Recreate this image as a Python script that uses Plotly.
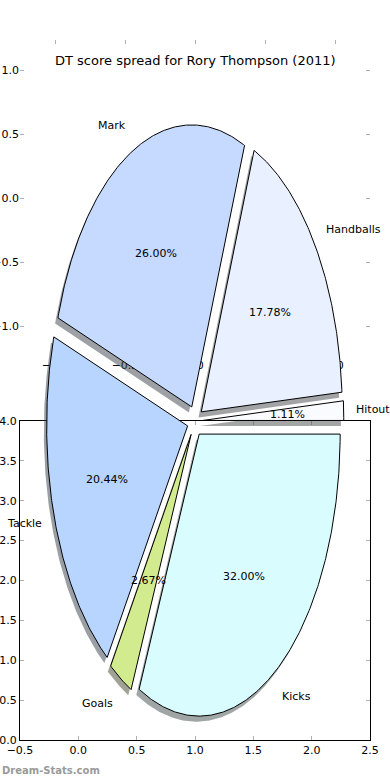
import numpy as np
import plotly.graph_objects as go

# ---- data ----
labels = ["Hitout", "Handballs", "Mark", "Tackle", "Goals", "Kicks"]
values = [5, 80, 117, 92, 12, 144]
colors = ["#f9fbff", "#e9f0ff", "#c6d9ff", "#b7d5ff", "#d2eb8f", "#d9fdff"]
title = "DT score spread for Rory Thompson (2011)"
upper_ticks = [-1.0, -0.5, 0.0, 0.5, 1.0]
lower_xticks = [-0.5, 0.0, 0.5, 1.0, 1.5, 2.0, 2.5]
lower_yticks = [0.0, 0.5, 1.0, 1.5, 2.0, 2.5, 3.0, 3.5, 4.0]

# ---- pie geometry (pixel space of a hidden full-page axis) ----
W, H = 390, 780
CX, CY = 195.0, 421.0
RX, RY = 141.0, 282.0
EXPLODE = 0.055
LABEL_DIST_X, LABEL_DIST_Y = 1.075, 1.1
PCT_DIST = 0.6
SH_DX, SH_DY = -0.02 * RX, 0.02 * RY
FONT = "DejaVu Sans"

fig = go.Figure()

total = float(sum(values))
fracs = [v / total for v in values]
angles = []
a = 0.0
for f in fracs:
    angles.append((a, a + 360.0 * f))
    a += 360.0 * f


def wedge(t1, t2, ox, oy):
    ts = np.radians(np.linspace(t1, t2, max(8, int((t2 - t1) * 2))))
    xs = [ox] + list(ox + RX * np.cos(ts)) + [ox]
    ys = [oy] + list(oy - RY * np.sin(ts)) + [oy]
    return xs, ys


def shadow_color(hexc):
    r, g, b = int(hexc[1:3], 16), int(hexc[3:5], 16), int(hexc[5:7], 16)
    return "rgba(%d,%d,%d,0.5)" % (0.3 * r, 0.3 * g, 0.3 * b)


geo = []
for (t1, t2) in angles:
    tm = np.radians((t1 + t2) / 2)
    ox = CX + EXPLODE * RX * np.cos(tm)
    oy = CY - EXPLODE * RY * np.sin(tm)
    geo.append((t1, t2, tm, ox, oy))

# shadows first
for (t1, t2, tm, ox, oy), c in zip(geo, colors):
    xs, ys = wedge(t1, t2, ox + SH_DX, oy + SH_DY)
    fig.add_trace(go.Scatter(x=xs, y=ys, xaxis="x3", yaxis="y3", mode="lines",
                             fill="toself", fillcolor=shadow_color(c),
                             line=dict(width=0), hoverinfo="skip", showlegend=False))
# wedges
for (t1, t2, tm, ox, oy), c in zip(geo, colors):
    xs, ys = wedge(t1, t2, ox, oy)
    fig.add_trace(go.Scatter(x=xs, y=ys, xaxis="x3", yaxis="y3", mode="lines",
                             fill="toself", fillcolor=c,
                             line=dict(width=1, color="#000000"),
                             hoverinfo="skip", showlegend=False))

annotations = []
for (t1, t2, tm, ox, oy), lab, f in zip(geo, labels, fracs):
    lx = ox + LABEL_DIST_X * RX * np.cos(tm)
    ly = oy - LABEL_DIST_Y * RY * np.sin(tm)
    annotations.append(dict(x=lx, y=ly, xref="x3", yref="y3", text=lab, showarrow=False,
                            xanchor="left" if np.cos(tm) > 0 else "right", yanchor="middle",
                            font=dict(family=FONT, size=11, color="#000")))
    px = ox + PCT_DIST * RX * np.cos(tm)
    py = oy - PCT_DIST * RY * np.sin(tm)
    annotations.append(dict(x=px, y=py, xref="x3", yref="y3", text="%.2f%%" % (100 * f),
                            showarrow=False, xanchor="center", yanchor="middle",
                            font=dict(family=FONT, size=11, color="#000")))

annotations.append(dict(x=0.5, y=1 - 61 / H, xref="paper", yref="paper", text=title,
                        showarrow=False, xanchor="center", yanchor="middle",
                        font=dict(family=FONT, size=13, color="#000")))
annotations.append(dict(x=0, y=1 - 770 / H, xref="paper", yref="paper", text="<b>Dream-Stats.com</b>",
                        showarrow=False, xanchor="left", yanchor="middle",
                        font=dict(family=FONT, size=10, color="#9a9a9a")))

# invisible traces so the two visible axes are drawn
fig.add_trace(go.Scatter(x=[None], y=[None], xaxis="x", yaxis="y", showlegend=False))
fig.add_trace(go.Scatter(x=[None], y=[None], xaxis="x2", yaxis="y2", showlegend=False))

tickfont = dict(family=FONT, size=11, color="#000")
common = dict(ticks="inside", ticklen=4, tickcolor="#b0b0b0", tickwidth=1, automargin=False,
              showgrid=False, zeroline=False, tickfont=tickfont, tickformat=".1f")

x_l, x_r = 20 / W, 370 / W
fig.update_layout(
    width=W, height=H, margin=dict(l=0, r=0, t=0, b=0, pad=0, autoexpand=False),
    paper_bgcolor="white", plot_bgcolor="rgba(0,0,0,0)",
    xaxis=dict(domain=[x_l, x_r], range=[-1.25, 1.25], tickvals=upper_ticks,
               anchor="y", mirror="ticks", showline=False, **common),
    yaxis=dict(domain=[1 - 357 / H, 1 - 40 / H], range=[-1.238, 1.238], tickvals=upper_ticks,
               anchor="x", mirror="ticks", showline=False, **common),
    xaxis2=dict(domain=[x_l, x_r], range=[-0.5, 2.5], tickvals=lower_xticks,
                anchor="y2", mirror="ticks", showline=True, linecolor="#000", linewidth=1, **common),
    yaxis2=dict(domain=[1 - 740 / H, 1 - 421 / H], range=[0, 4], tickvals=lower_yticks,
                anchor="x2", mirror="ticks", showline=True, linecolor="#000", linewidth=1, **common),
    xaxis3=dict(domain=[0, 1], range=[0, W], visible=False, anchor="y3", fixedrange=True,
                automargin=False),
    yaxis3=dict(domain=[0, 1], range=[H, 0], visible=False, anchor="x3", fixedrange=True,
                automargin=False),
    annotations=annotations,
    showlegend=False,
)

fig.write_html("out.html")
